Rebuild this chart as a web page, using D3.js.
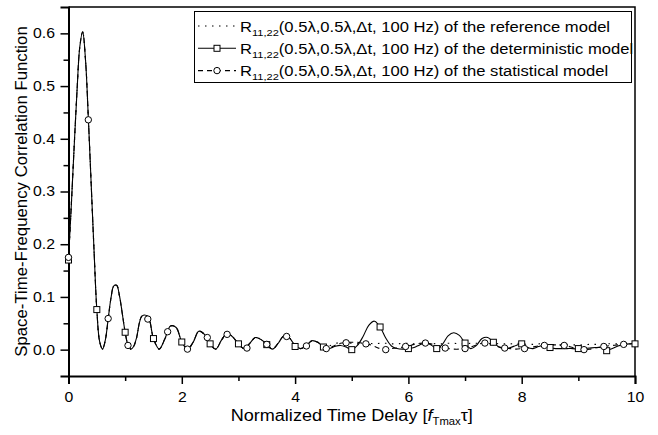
<html>
<head>
<title>Space-Time-Frequency Correlation</title>
<style>
body { margin: 0; background: #fff; }
svg text { font-family: 'Liberation Sans', Arial, sans-serif; fill: #000; }
.frame { fill: none; stroke: #000; stroke-width: 1.5; }
.curve { fill: none; stroke: #000; stroke-width: 1.1; }
.curve.ref { stroke-dasharray: 1.5, 5.5; }
.curve.stat { stroke-dasharray: 5, 4; }
.mark { fill: #fff; stroke: #000; stroke-width: 1; }
</style>
</head>
<body>
<svg id='plot' width='658' height='435'></svg>

<script src='https://cdn.jsdelivr.net/npm/d3@7'></script>
<script>
// time delay grid (f_Tmax * tau)
const tau = [
  0, 0.05, 0.1, 0.15, 0.2, 0.25, 0.3, 0.35, 0.4, 0.45, 0.5, 0.55, 0.6, 0.65, 0.7, 0.75,
  0.8, 0.85, 0.9, 0.95, 1.0, 1.05, 1.1, 1.15, 1.2,
  1.3, 1.4, 1.5, 1.6, 1.7, 1.8, 1.9, 2.0, 2.1, 2.2, 2.3, 2.4, 2.5, 2.6, 2.7, 2.8, 2.9,
  3.0, 3.1, 3.2, 3.3, 3.4, 3.5, 3.6, 3.7, 3.8, 3.9, 4.0, 4.1, 4.2, 4.3, 4.4, 4.5,
  4.6, 4.7, 4.8, 4.9, 5.0, 5.1, 5.2, 5.3, 5.4, 5.5, 5.6, 5.7, 5.8, 5.9, 6.0, 6.1,
  6.2, 6.3, 6.4, 6.5, 6.6, 6.7, 6.8, 6.9, 7.0, 7.1, 7.2, 7.3, 7.4, 7.5, 7.6, 7.7,
  7.8, 7.9, 8.0, 8.1, 8.2, 8.3, 8.4, 8.5, 8.6, 8.7, 8.8, 8.9, 9.0, 9.1, 9.2, 9.3,
  9.4, 9.5, 9.6, 9.7, 9.8, 9.9, 10.0
];

// the three models share the first part of the curve (up to ~4.5)
const refCorr = [
  0.172, 0.275, 0.385, 0.49, 0.575, 0.603, 0.55, 0.44, 0.315, 0.19, 0.076, 0.015, 0.001, 0.018, 0.058, 0.098,
  0.121, 0.122, 0.102, 0.068, 0.033, 0.009, 0.001, 0.006, 0.022,
  0.064, 0.063, 0.021, 0.001, 0.02, 0.045, 0.042, 0.0145, 0.001, 0.014, 0.035, 0.029, 0.011, 0.001, 0.018, 0.031, 0.024,
  0.011, 0.002, 0.012, 0.023, 0.019, 0.01, 0.001, 0.012, 0.026, 0.022, 0.008, 0.002, 0.008, 0.017, 0.014, 0.006,
  0.007, 0.011, 0.014, 0.014, 0.012, 0.011, 0.012, 0.012, 0.011, 0.012, 0.012, 0.011, 0.011, 0.012, 0.012, 0.011,
  0.011, 0.012, 0.012, 0.011, 0.011, 0.012, 0.012, 0.011, 0.011, 0.012, 0.012, 0.011, 0.011, 0.012, 0.011, 0.011,
  0.011, 0.012, 0.011, 0.01, 0.01, 0.011, 0.011, 0.01, 0.009, 0.009, 0.009, 0.009, 0.009, 0.009, 0.01, 0.01,
  0.01, 0.011, 0.011, 0.011, 0.011, 0.011, 0.011
];

const detCorr = [
  0.172, 0.275, 0.385, 0.49, 0.575, 0.603, 0.55, 0.44, 0.315, 0.19, 0.076, 0.015, 0.001, 0.018, 0.058, 0.098,
  0.121, 0.122, 0.102, 0.068, 0.033, 0.009, 0.001, 0.006, 0.022,
  0.064, 0.063, 0.021, 0.001, 0.02, 0.045, 0.042, 0.0145, 0.001, 0.014, 0.035, 0.029, 0.011, 0.001, 0.018, 0.031, 0.024,
  0.011, 0.002, 0.012, 0.023, 0.019, 0.01, 0.001, 0.012, 0.026, 0.022, 0.008, 0.002, 0.008, 0.017, 0.014, 0.005,
  0.002, 0.006, 0.008, 0.005, 0.0, 0.008, 0.025, 0.046, 0.054, 0.043, 0.022, 0.007, 0.002, 0.001, 0.002, 0.004,
  0.009, 0.0125, 0.009, 0.002, 0.01, 0.026, 0.032, 0.027, 0.0125, 0.002, 0.008, 0.021, 0.023, 0.014, 0.005, 0.002,
  0.004, 0.008, 0.011, 0.004, 0.002, 0.006, 0.008, 0.004, 0.002, 0.002, 0.002, 0.002, 0.001, 0.002, 0.003, 0.004,
  0.004, -0.001, 0.002, 0.007, 0.01, 0.011, 0.011
];

const statCorr = [
  0.172, 0.275, 0.385, 0.49, 0.575, 0.603, 0.55, 0.44, 0.315, 0.19, 0.076, 0.015, 0.001, 0.018, 0.058, 0.098,
  0.121, 0.122, 0.102, 0.068, 0.033, 0.009, 0.001, 0.006, 0.022,
  0.064, 0.063, 0.021, 0.001, 0.02, 0.045, 0.042, 0.0145, 0.001, 0.014, 0.035, 0.029, 0.011, 0.001, 0.018, 0.031, 0.024,
  0.011, 0.002, 0.012, 0.023, 0.019, 0.01, 0.001, 0.012, 0.026, 0.022, 0.008, 0.002, 0.008, 0.017, 0.014, 0.005,
  0.003, 0.008, 0.012, 0.0135, 0.014, 0.014, 0.012, 0.01, 0.006, 0.002, 0.0, 0.002, 0.003, 0.005, 0.007, 0.01,
  0.012, 0.0125, 0.011, 0.007, 0.004, 0.002, 0.001, 0.001, 0.002, 0.005, 0.009, 0.012, 0.012, 0.009, 0.005, 0.003,
  0.002, 0.001, 0.002, 0.003, 0.005, 0.007, 0.008, 0.009, 0.009, 0.008, 0.007, 0.004, 0.001, 0.0, 0.001, 0.003,
  0.005, 0.007, 0.008, 0.009, 0.01, 0.011, 0.011
];

// symbol positions
const detMarkX = [0, 0.5, 1.0, 1.5, 2.0, 2.5, 3.0, 3.5, 4.0, 4.5, 5.0, 5.5, 6.0, 6.5, 7.0, 7.5, 8.0, 8.5, 9.0, 9.5, 10.0];
const detMarkY = [0.17, 0.076, 0.033, 0.021, 0.0145, 0.011, 0.011, 0.0095, 0.006, 0.005, 0.0, 0.043, 0.002, 0.002, 0.0125, 0.014, 0.011, 0.004, 0.002, -0.002, 0.011];

const statMarkX = [0, 0.35, 0.7, 1.05, 1.4, 1.75, 2.1, 2.45, 2.8, 3.15, 3.5, 3.85, 4.2, 4.55, 4.9,
  5.25, 5.6, 5.95, 6.3, 6.65, 7.0, 7.35, 7.7, 8.05, 8.4, 8.75, 9.1, 9.45, 9.8];
const statMarkY = [0.175, 0.436, 0.059, 0.008, 0.058, 0.034, 0.001, 0.023, 0.029, 0.003, 0.01, 0.025, 0.007, 0.002, 0.013,
  0.011, 0.0, 0.006, 0.0125, 0.003, 0.002, 0.0125, 0.003, 0.002, 0.008, 0.008, 0.0, 0.006, 0.01];

const xMajor = [0, 2, 4, 6, 8, 10];
const xMinor = [1, 3, 5, 7, 9];
const yMajor = [0.0, 0.1, 0.2, 0.3, 0.4, 0.5, 0.6];
const yMinor = [0.05, 0.15, 0.25, 0.35, 0.45, 0.55];

const legendLabels = [
  'of the reference model',
  'of the deterministic model',
  'of the statistical model'
];

// the original figure's lettering is a bit wider than Arial, so stretch it horizontally
const stretch = 1.13;

const svg = d3.select('#plot');
const plotL = 68.5, plotR = 635, plotT = 7, plotB = 376;

const x = d3.scaleLinear().domain([0, 10]).range([plotL, plotR]);
const y = d3.scaleLinear().domain([-0.05, 0.65]).range([plotB, plotT]);

// frame (top + right)
svg.append('path')
  .attr('class', 'frame')
  .attr('d', `M${plotL},${plotT}H${plotR}V${plotB}`);

// axes
function drawAxisX() {
  const g = svg.append('g').attr('transform', `translate(0,${plotB})`);
  g.call(d3.axisBottom(x).tickValues(xMajor).tickSize(8).tickPadding(8).tickFormat(d3.format('d')))
    .call(a => a.select('.domain').attr('stroke-width', 2));
  g.selectAll('.tick line').attr('stroke-width', 1.5);
  g.selectAll('.tick text')
    .attr('font-size', 14).attr('font-family', 'Liberation Sans, Arial')
    .attr('transform', `scale(${stretch},1)`);
  const m = svg.append('g').attr('transform', `translate(0,${plotB})`);
  m.call(d3.axisBottom(x).tickValues(xMinor).tickSize(5).tickFormat(''))
    .call(a => a.select('.domain').remove());
  m.selectAll('.tick line').attr('stroke-width', 1.5);
}

function drawAxisY() {
  const g = svg.append('g').attr('transform', `translate(${plotL},0)`);
  g.call(d3.axisLeft(y).tickValues(yMajor).tickSize(8).tickPadding(4).tickFormat(d3.format('.1f')))
    .call(a => a.select('.domain').attr('stroke-width', 2));
  g.selectAll('.tick line').attr('stroke-width', 1.5);
  g.selectAll('.tick text')
    .attr('font-size', 14).attr('font-family', 'Liberation Sans, Arial')
    .attr('transform', `scale(${stretch},1)`);
  const m = svg.append('g').attr('transform', `translate(${plotL},0)`);
  m.call(d3.axisLeft(y).tickValues(yMinor).tickSize(5).tickFormat(''))
    .call(a => a.select('.domain').remove());
  m.selectAll('.tick line').attr('stroke-width', 1.5);
}

drawAxisX();
drawAxisY();

// axis titles
const xt = svg.append('text')
  .attr('transform', `translate(${(plotL + plotR) / 2},421) scale(${stretch},1)`)
  .attr('text-anchor', 'middle')
  .attr('font-size', 16);
xt.append('tspan').text('Normalized Time Delay [');
xt.append('tspan').attr('font-style', 'italic').text('f');
xt.append('tspan').attr('font-size', 10).attr('dy', 4).text('Tmax');
xt.append('tspan').attr('dy', -4).text('τ]');

svg.append('text')
  .attr('transform', `translate(26.5,${(plotT + plotB) / 2}) rotate(-90)`)
  .attr('text-anchor', 'middle')
  .attr('font-size', 16.8)
  .text('Space-Time-Frequency Correlation Function');

// curves
const line = d3.line()
  .x(d => x(d[0]))
  .y(d => y(d[1]))
  .curve(d3.curveCatmullRom.alpha(0.5));

const series = [
  { cls: 'ref', values: refCorr },
  { cls: 'det', values: detCorr },
  { cls: 'stat', values: statCorr }
];

for (let s of series) {
  svg.append('path')
    .attr('class', 'curve ' + s.cls)
    .attr('d', line(tau.map((t, i) => [t, s.values[i]])));
}

// symbols
svg.append('g').selectAll('rect')
  .data(detMarkX.map((t, i) => [t, detMarkY[i]]))
  .join('rect')
  .attr('class', 'mark')
  .attr('x', d => x(d[0]) - 3)
  .attr('y', d => y(d[1]) - 3)
  .attr('width', 6)
  .attr('height', 6);

svg.append('g').selectAll('circle')
  .data(statMarkX.map((t, i) => [t, statMarkY[i]]))
  .join('circle')
  .attr('class', 'mark')
  .attr('cx', d => x(d[0]))
  .attr('cy', d => y(d[1]))
  .attr('r', 3.2);

// legend
const lg = svg.append('g');
lg.append('rect')
  .attr('x', 194.5).attr('y', 11.5)
  .attr('width', 437).attr('height', 71)
  .attr('fill', '#fff').attr('stroke', '#000').attr('stroke-width', 1);

legendLabels.forEach((lab, i) => {
  const cy = 26 + i * 22.3;
  lg.append('line')
    .attr('class', 'curve ' + series[i].cls)
    .attr('x1', 198).attr('x2', 236)
    .attr('y1', cy).attr('y2', cy);
  if (i == 1) {
    lg.append('rect').attr('class', 'mark')
      .attr('x', 214).attr('y', cy - 3).attr('width', 6).attr('height', 6);
  } else if (i == 2) {
    lg.append('circle').attr('class', 'mark')
      .attr('cx', 217).attr('cy', cy).attr('r', 3.2);
  }
  const t = lg.append('text')
    .attr('transform', `translate(240,${cy + 5.5}) scale(${stretch},1)`)
    .attr('font-size', 14.7);
  t.append('tspan').text('R');
  t.append('tspan').attr('font-size', 9.8).attr('dy', 4).text('11,22');
  t.append('tspan').attr('dy', -4).text('(0.5λ,0.5λ,Δt, 100 Hz) ' + lab);
});
</script>
</body>
</html>
